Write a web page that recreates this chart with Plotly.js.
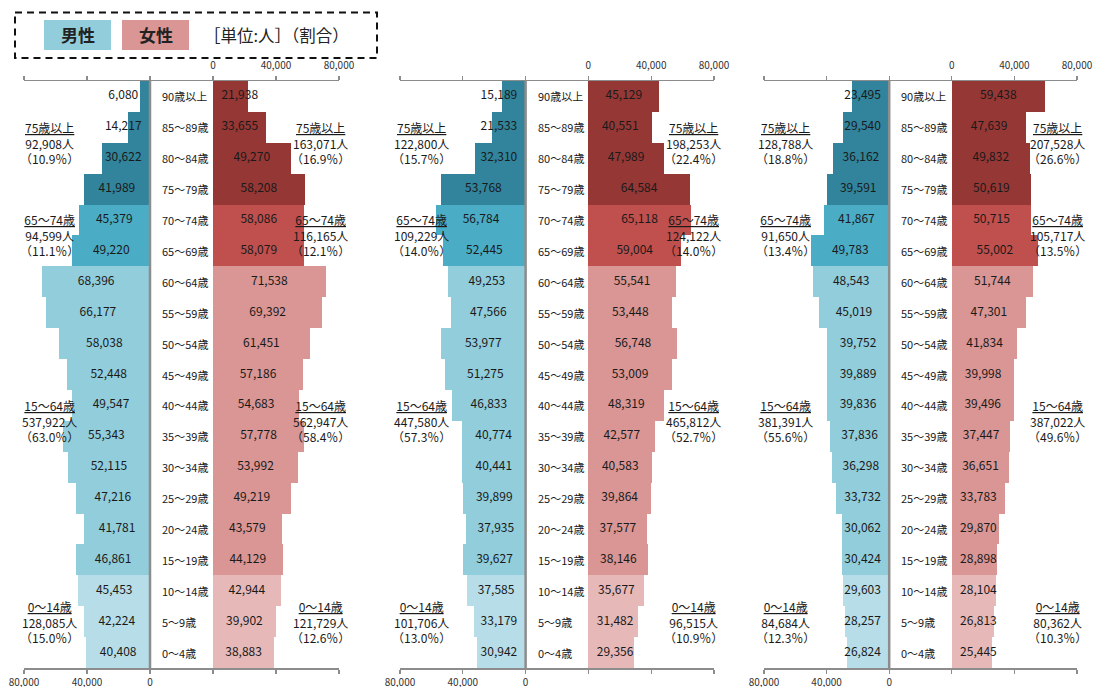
<!DOCTYPE html>
<html>
<head>
<meta charset="utf-8">
<script src="https://cdn.plot.ly/plotly-3.0.1.min.js"></script>
<style>html,body{margin:0;padding:0;background:#fff;}#chart{width:1098px;height:687px;}</style>
</head>
<body>
<div id="chart"></div>
<script>
// ---------------- DATA ----------------
const ages = ['90歳以上','85～89歳','80～84歳','75～79歳','70～74歳','65～69歳','60～64歳','55～59歳','50～54歳','45～49歳','40～44歳','35～39歳','30～34歳','25～29歳','20～24歳','15～19歳','10～14歳','5～9歳','0～4歳'];
// age-group index of each row (0:75歳以上, 1:65～74歳, 2:15～64歳, 3:0～14歳)
const rowGroup = [0,0,0,0,1,1,2,2,2,2,2,2,2,2,2,2,3,3,3];

const male1 = [6080,14217,30622,41989,45379,49220,68396,66177,58038,52448,49547,55343,52115,47216,41781,46861,45453,42224,40408];
const female1 = [21938,33655,49270,58208,58086,58079,71538,69392,61451,57186,54683,57778,53992,49219,43579,44129,42944,39902,38883];
const male2 = [15189,21533,32310,53768,56784,52445,49253,47566,53977,51275,46833,40774,40441,39899,37935,39627,37585,33179,30942];
const female2 = [45129,40551,47989,64584,65118,59004,55541,53448,56748,53009,48319,42577,40583,39864,37577,38146,35677,31482,29356];
const male3 = [23495,29540,36162,39591,41867,49783,48543,45019,39752,39889,39836,37836,36298,33732,30062,30424,29603,28257,26824];
const female3 = [59438,47639,49832,50619,50715,55002,51744,47301,41834,39998,39496,37447,36651,33783,29870,28898,28104,26813,25445];

const groupLabels = ['75歳以上','65～74歳','15～64歳','0～14歳'];
const maleTotals1 = [92908,94599,537922,128085];
const malePct1 = [10.9,11.1,63.0,15.0];
const femaleTotals1 = [163071,116165,562947,121729];
const femalePct1 = [16.9,12.1,58.4,12.6];
const maleTotals2 = [122800,109229,447580,101706];
const malePct2 = [15.7,14.0,57.3,13.0];
const femaleTotals2 = [198253,124122,465812,96515];
const femalePct2 = [22.4,14.0,52.7,10.9];
const maleTotals3 = [128788,91650,381391,84684];
const malePct3 = [18.8,13.4,55.6,12.3];
const femaleTotals3 = [207528,105717,387022,80362];
const femalePct3 = [26.6,13.5,49.6,10.3];

const bottomTickText = ['80,000','40,000','0','','',''];
const topTickText = ['','','','0','40,000','80,000'];
const legendMale = '男性';
const legendFemale = '女性';
const unitText = '［単位:人］（割合）';

// ---------------- STYLE ----------------
const maleColors = ['#31849B','#4BACC6','#92CDDC','#B7DEE8'];
const femaleColors = ['#953735','#C0504D','#D99694','#E6B9B8'];
const FONT = '"Noto Sans CJK JP", "Noto Sans", sans-serif';
const GAP = 40000;          // centre gap between male and female axes
const MINLBL = 17000;       // minimum label offset for narrow bars
const W = 1098, TOP = 81, BOT = 668;
const px = x => x / W;
const py = y => (BOT - y) / (BOT - TOP);
const panelPx = [[24,339],[400,714],[764,1077]];
const tickVals = [-80000,-40000,0,40000,80000,120000];
const fmt = v => v.toLocaleString('en-US');

const panels = [
  {male: male1, female: female1, mt: maleTotals1, mp: malePct1, ft: femaleTotals1, fp: femalePct1},
  {male: male2, female: female2, mt: maleTotals2, mp: malePct2, ft: femaleTotals2, fp: femalePct2},
  {male: male3, female: female3, mt: maleTotals3, mp: malePct3, ft: femaleTotals3, fp: femalePct3}
];

const traces = [];
const annotations = [];
const shapes = [];
const layout = {
  width: 1098, height: 687,
  margin: {l: 0, r: 0, t: TOP, b: 687 - BOT, pad: 0},
  paper_bgcolor: '#fff', plot_bgcolor: 'rgba(0,0,0,0)',
  barmode: 'overlay', bargap: 0,
  showlegend: false,
  font: {family: FONT, size: 11, color: '#1a1a1a'},
  yaxis: {type: 'category', range: [18.5, -0.5], showgrid: false, zeroline: false,
          showticklabels: false, ticks: '', showline: false, fixedrange: true}
};

const groupRows = [1.5, 4.5, 10.5, 17];
const groupX = [[-63500, 108500], [-66000, 107000], [-66500, 107500]];

panels.forEach((p, i) => {
  const xb = i === 0 ? 'x' : 'x' + (i + 1);
  const xt = 'x' + (i + 4);
  const bKey = i === 0 ? 'xaxis' : 'xaxis' + (i + 1);
  const tKey = 'xaxis' + (i + 4);
  const dom = [px(panelPx[i][0]), px(panelPx[i][1])];
  layout[bKey] = {
    domain: dom, range: [-80000, 120000], anchor: 'y',
    showgrid: false, zeroline: false, showline: true, linecolor: '#8c8c8c', linewidth: 1.5,
    ticks: 'outside', ticklen: 4, tickcolor: '#8c8c8c', tickwidth: 1.2,
    tickmode: 'array', tickvals: tickVals, ticktext: bottomTickText,
    tickfont: {size: 10, color: '#333', family: FONT}, ticklabelstandoff: 0, fixedrange: true
  };
  layout[tKey] = {
    domain: dom, range: [-80000, 120000], anchor: 'y', overlaying: xb, side: 'top',
    showgrid: false, zeroline: false, showline: true, linecolor: '#8c8c8c', linewidth: 1.5,
    ticks: 'outside', ticklen: 4, tickcolor: '#8c8c8c', tickwidth: 1.2,
    tickmode: 'array', tickvals: tickVals, ticktext: topTickText,
    tickfont: {size: 10, color: '#333', family: FONT}, ticklabelstandoff: 3, fixedrange: true
  };

  traces.push({
    type: 'bar', orientation: 'h', xaxis: xb, yaxis: 'y',
    y: ages, x: p.male.map(v => -v),
    marker: {color: rowGroup.map(g => maleColors[g]), line: {width: 0}},
    hoverinfo: 'skip'
  });
  traces.push({
    type: 'bar', orientation: 'h', xaxis: xb, yaxis: 'y',
    y: ages, x: p.female, base: GAP,
    marker: {color: rowGroup.map(g => femaleColors[g]), line: {width: 0}},
    hoverinfo: 'skip'
  });
  traces.push({
    type: 'scatter', mode: 'text', xaxis: xb, yaxis: 'y',
    y: ages, x: p.male.map(v => -Math.max(v / 2, MINLBL)),
    text: p.male.map(fmt), textposition: 'middle center',
    textfont: {size: 12, color: '#1a1a1a', family: FONT}, cliponaxis: false, hoverinfo: 'skip'
  });
  traces.push({
    type: 'scatter', mode: 'text', xaxis: xb, yaxis: 'y',
    y: ages, x: p.female.map(v => GAP + Math.max(v / 2, MINLBL)),
    text: p.female.map(fmt), textposition: 'middle center',
    textfont: {size: 12, color: '#1a1a1a', family: FONT}, cliponaxis: false, hoverinfo: 'skip'
  });
  // invisible trace so the top (label) axis is drawn
  traces.push({
    type: 'scatter', mode: 'markers', xaxis: xt, yaxis: 'y',
    x: [0], y: [ages[0]], marker: {opacity: 0}, hoverinfo: 'skip'
  });

  // centre age labels
  ages.forEach((a, r) => {
    annotations.push({xref: xb, yref: 'y', x: 6500, y: r, text: a, showarrow: false,
      xanchor: 'left', yanchor: 'middle', font: {size: 11, color: '#1a1a1a', family: FONT}});
  });

  // centre line
  shapes.push({type: 'line', xref: xb, yref: 'paper', x0: 0, x1: 0, y0: 0, y1: 1,
    line: {color: '#8c8c8c', width: 2.5}, layer: 'above'});

  // group summaries
  groupLabels.forEach((g, k) => {
    const sides = [
      {x: groupX[i][0], tot: p.mt[k], pct: p.mp[k]},
      {x: groupX[i][1], tot: p.ft[k], pct: p.fp[k]}
    ];
    sides.forEach(s => {
      const t = '<u>' + g + '</u><br>' + fmt(s.tot) + '人<br>（' + s.pct.toFixed(1) + '％）';
      annotations.push({xref: xb, yref: 'y', x: s.x, y: groupRows[k], text: t,
        showarrow: false, xanchor: 'center', yanchor: 'middle', align: 'center',
        font: {size: 12, color: '#1a1a1a', family: FONT}});
    });
  });
});

// legend box
shapes.push({type: 'rect', xref: 'paper', yref: 'paper', x0: px(15), x1: px(377), y0: py(12.5), y1: py(58),
  line: {color: '#111', width: 2, dash: '7px,5px'}, fillcolor: 'rgba(0,0,0,0)'});
shapes.push({type: 'rect', xref: 'paper', yref: 'paper', x0: px(44), x1: px(111), y0: py(20), y1: py(50),
  line: {width: 0}, fillcolor: maleColors[2]});
shapes.push({type: 'rect', xref: 'paper', yref: 'paper', x0: px(122), x1: px(189), y0: py(20), y1: py(50),
  line: {width: 0}, fillcolor: femaleColors[2]});
annotations.push({xref: 'paper', yref: 'paper', x: px(77.5), y: py(35), text: '<b>' + legendMale + '</b>',
  showarrow: false, xanchor: 'center', yanchor: 'middle', font: {size: 17, color: '#222', family: FONT}});
annotations.push({xref: 'paper', yref: 'paper', x: px(155.5), y: py(35), text: '<b>' + legendFemale + '</b>',
  showarrow: false, xanchor: 'center', yanchor: 'middle', font: {size: 17, color: '#222', family: FONT}});
annotations.push({xref: 'paper', yref: 'paper', x: px(276), y: py(35), text: unitText,
  showarrow: false, xanchor: 'center', yanchor: 'middle', font: {size: 16.5, color: '#222', family: FONT}});

layout.annotations = annotations;
layout.shapes = shapes;

Plotly.newPlot('chart', traces, layout, {displayModeBar: false, staticPlot: true});
</script>
</body>
</html>
